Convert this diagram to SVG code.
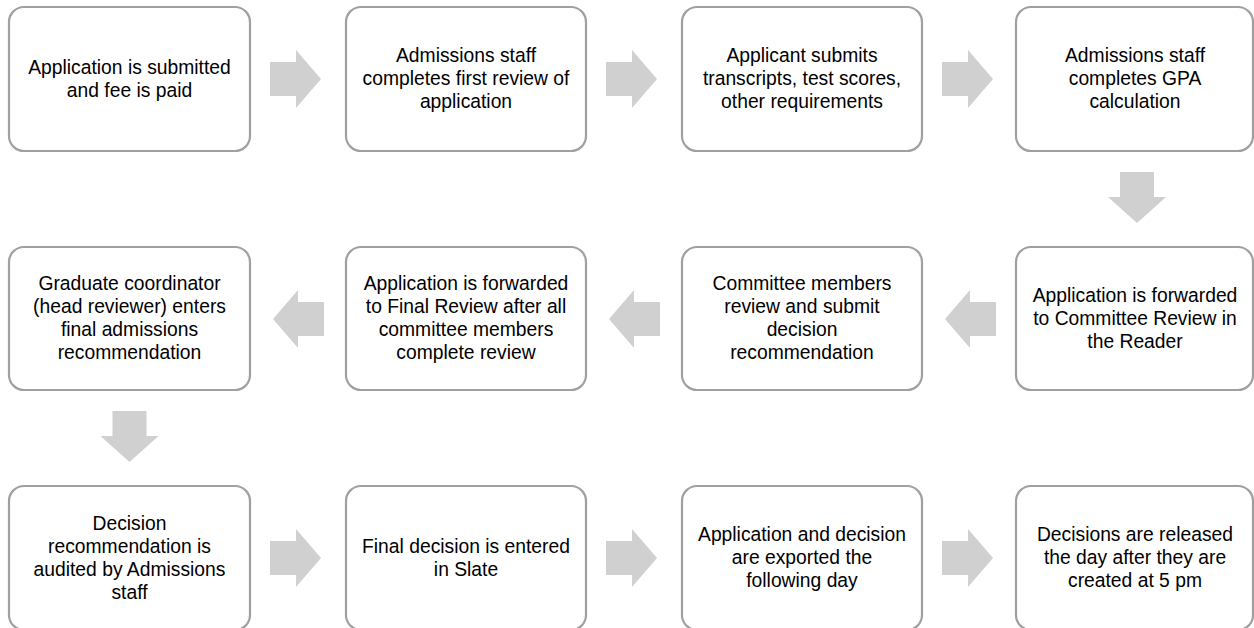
<svg xmlns="http://www.w3.org/2000/svg" width="1254" height="628" viewBox="0 0 1254 628">
<style>
.box{fill:#fff;stroke:#a0a0a0;stroke-width:2.2}
.arr{fill:#d0d0d0}
text{font-family:"Liberation Sans",Arial,sans-serif;font-size:19.3px;fill:#000;text-anchor:middle}
</style>
<defs>
<path id="ar" d="M0,-17 H26 V-29 L51,0 L26,29 V17 H0 Z"/>
<path id="al" d="M0,0 L25,-29 V-17 H51 V17 H25 V29 Z"/>
<path id="ad" d="M-17,0 H17 V25 H29 L0,51 L-29,25 H-17 Z"/>
</defs>
<rect width="1254" height="628" fill="#fff"/>
<g id="connectors">
<use href="#ar" class="arr" x="270" y="79"/>
<use href="#ar" class="arr" x="606" y="79"/>
<use href="#ar" class="arr" x="942" y="79"/>
<use href="#ad" class="arr" x="1137" y="172"/>
<use href="#al" class="arr" x="945" y="319"/>
<use href="#al" class="arr" x="609" y="319"/>
<use href="#al" class="arr" x="273" y="319"/>
<use href="#ad" class="arr" x="129.5" y="411"/>
<use href="#ar" class="arr" x="270" y="558"/>
<use href="#ar" class="arr" x="606" y="558"/>
<use href="#ar" class="arr" x="942" y="558"/>
</g>
<g id="n1"><rect class="box" x="9" y="7" width="241" height="144" rx="15"/>
<text x="129.5" y="74">Application is submitted</text><text x="129.5" y="97">and fee is paid</text></g>
<g id="n2"><rect class="box" x="346" y="7" width="240" height="144" rx="15"/>
<text x="466" y="62">Admissions staff</text><text x="466" y="85">completes first review of</text><text x="466" y="108">application</text></g>
<g id="n3"><rect class="box" x="682" y="7" width="240" height="144" rx="15"/>
<text x="802" y="62">Applicant submits</text><text x="802" y="85">transcripts, test scores,</text><text x="802" y="108">other requirements</text></g>
<g id="n4"><rect class="box" x="1016" y="7" width="237" height="144" rx="15"/>
<text x="1135" y="62">Admissions staff</text><text x="1135" y="85">completes GPA</text><text x="1135" y="108">calculation</text></g>
<g id="n5"><rect class="box" x="1016" y="247" width="237" height="143" rx="15"/>
<text x="1135" y="302">Application is forwarded</text><text x="1135" y="325">to Committee Review in</text><text x="1135" y="348">the Reader</text></g>
<g id="n6"><rect class="box" x="682" y="247" width="240" height="143" rx="15"/>
<text x="802" y="290">Committee members</text><text x="802" y="313">review and submit</text><text x="802" y="336">decision</text><text x="802" y="359">recommendation</text></g>
<g id="n7"><rect class="box" x="346" y="247" width="240" height="143" rx="15"/>
<text x="466" y="290">Application is forwarded</text><text x="466" y="313">to Final Review after all</text><text x="466" y="336">committee members</text><text x="466" y="359">complete review</text></g>
<g id="n8"><rect class="box" x="9" y="247" width="241" height="143" rx="15"/>
<text x="129.5" y="290">Graduate coordinator</text><text x="129.5" y="313">(head reviewer) enters</text><text x="129.5" y="336">final admissions</text><text x="129.5" y="359">recommendation</text></g>
<g id="n9"><rect class="box" x="9" y="486" width="241" height="144" rx="15"/>
<text x="129.5" y="530">Decision</text><text x="129.5" y="553">recommendation is</text><text x="129.5" y="576">audited by Admissions</text><text x="129.5" y="599">staff</text></g>
<g id="n10"><rect class="box" x="346" y="486" width="240" height="144" rx="15"/>
<text x="466" y="553">Final decision is entered</text><text x="466" y="576">in Slate</text></g>
<g id="n11"><rect class="box" x="682" y="486" width="240" height="144" rx="15"/>
<text x="802" y="541">Application and decision</text><text x="802" y="564">are exported the</text><text x="802" y="587">following day</text></g>
<g id="n12"><rect class="box" x="1016" y="486" width="237" height="144" rx="15"/>
<text x="1135" y="541">Decisions are released</text><text x="1135" y="564">the day after they are</text><text x="1135" y="587">created at 5 pm</text></g>
</svg>
